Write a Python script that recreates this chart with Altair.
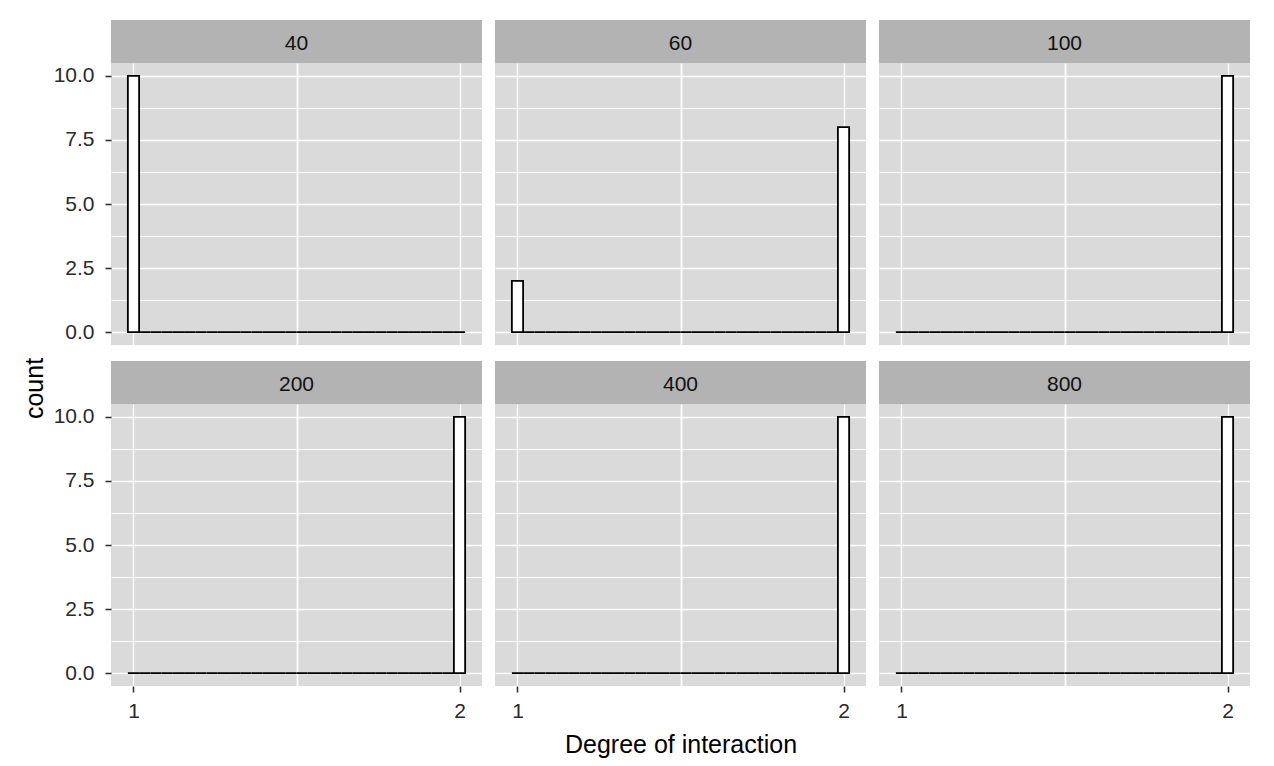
import altair as alt
import pandas as pd

# ---- data ----
facet_labels = ["40", "60", "100", "200", "400", "800"]
count_at_1 = [10, 2, 0, 0, 0, 0]      # count in the bin centred on 1
count_at_2 = [0, 8, 10, 10, 10, 10]   # count in the bin centred on 2
n_bins = 30                           # ggplot default histogram bins
x_lo, x_hi = 1, 2
y_major = [0, 2.5, 5, 7.5, 10]
y_minor = [1.25, 3.75, 6.25, 8.75]
x_major = [1, 2]
x_minor = [1.5]

binw = (x_hi - x_lo) / (n_bins - 1)
left_edge = x_lo - binw / 2
right_edge = x_hi + binw / 2
xpad = (right_edge - left_edge) * 0.05
x_dom = [left_edge - xpad, right_edge + xpad]
y_dom = [-0.5, 10.5]

W, H, SH = 371, 282, 43
FONT = "Liberation Sans"
PANEL_BG = "#dadada"
STRIP_BG = "#b3b3b3"


def panel_df(i):
    rows = []
    for k in range(n_bins):
        c = x_lo + k * binw
        if k == 0:
            cnt = count_at_1[i]
        elif k == n_bins - 1:
            cnt = count_at_2[i]
        else:
            cnt = 0
        rows.append({"x0": c - binw / 2, "x1": c + binw / 2, "count": cnt})
    return pd.DataFrame(rows)


def y_axis(show):
    common = dict(
        values=sorted(y_major + y_minor),
        grid=True,
        gridColor="white",
        gridWidth={"condition": {"test": "datum.value % 2.5 == 0", "value": 1.7}, "value": 1.2},
        domain=False,
        title=None,
    )
    if show:
        return alt.Axis(
            labelExpr="(datum.value % 2.5 == 0) ? format(datum.value, '.1f') : ''",
            tickOpacity={"condition": {"test": "datum.value % 2.5 == 0", "value": 1}, "value": 0},
            ticks=True, tickSize=6, tickWidth=1.6, tickColor="#333333",
            labelFontSize=21, labelColor="#2a2a2a", labelFont=FONT, labelPadding=11,
            **common,
        )
    return alt.Axis(labels=False, ticks=False, minExtent=0, maxExtent=0, **common)


def x_axis(show, title=None):
    common = dict(
        values=sorted(x_major + x_minor),
        grid=True,
        gridColor="white",
        gridWidth={"condition": {"test": "datum.value == 1.5", "value": 1.7}, "value": 1.3},
        domain=False,
    )
    if show:
        kw = dict(
            labelExpr="(datum.value == 1.5) ? '' : format(datum.value, 'd')",
            tickOpacity={"condition": {"test": "datum.value == 1.5", "value": 0}, "value": 1},
            ticks=True, tickSize=6, tickWidth=1.6, tickColor="#333333",
            labelFontSize=21, labelColor="#2a2a2a", labelFont=FONT, labelPadding=8,
        )
        if title:
            kw.update(title=title, titleFontSize=25, titleFont=FONT, titleColor="black",
                      titleFontWeight="normal", titlePadding=11)
        else:
            kw.update(title=None)
        return alt.Axis(**kw, **common)
    return alt.Axis(labels=False, ticks=False, title=None, minExtent=0, maxExtent=0, **common)


def panel(i, show_y, show_x, xtitle=None):
    strip_df = pd.DataFrame({"label": [facet_labels[i]]})
    strip_bg = alt.Chart(strip_df).mark_rect(color=STRIP_BG).encode(
        x=alt.value(0), x2=alt.value(W), y=alt.value(0), y2=alt.value(SH)
    )
    strip_txt = alt.Chart(strip_df).mark_text(
        fontSize=21, font=FONT, color="#111111", baseline="middle", align="center"
    ).encode(text="label:N", x=alt.value(W / 2), y=alt.value(SH / 2 + 2))
    strip = (strip_bg + strip_txt).properties(width=W, height=SH)

    bars = alt.Chart(panel_df(i)).mark_rect(
        fill="white", stroke="black", strokeWidth=1.8
    ).encode(
        x=alt.X("x0:Q", scale=alt.Scale(domain=x_dom, nice=False, zero=False), axis=x_axis(show_x, xtitle)),
        x2="x1:Q",
        y=alt.Y("count:Q", scale=alt.Scale(domain=y_dom, nice=False, zero=False), axis=y_axis(show_y)),
        y2=alt.datum(0),
    ).properties(width=W, height=H)
    return alt.vconcat(strip, bars, spacing=0)


row1 = alt.hconcat(panel(0, True, False), panel(1, False, False), panel(2, False, False), spacing=13)
row2 = alt.hconcat(panel(3, True, True), panel(4, False, True, "Degree of interaction"),
                   panel(5, False, True), spacing=13)

chart = alt.vconcat(
    row1, row2, spacing=16,
    title=alt.Title("count", orient="left", anchor="middle", fontSize=25, font=FONT,
                    fontWeight="normal", color="black", offset=5),
).properties(
    padding={"left": 15, "top": 12, "right": 5, "bottom": 5},
    background="white",
).configure_view(
    fill=PANEL_BG, strokeWidth=0
)

chart.save("out.html", embed_options={"renderer": "svg", "actions": False})
